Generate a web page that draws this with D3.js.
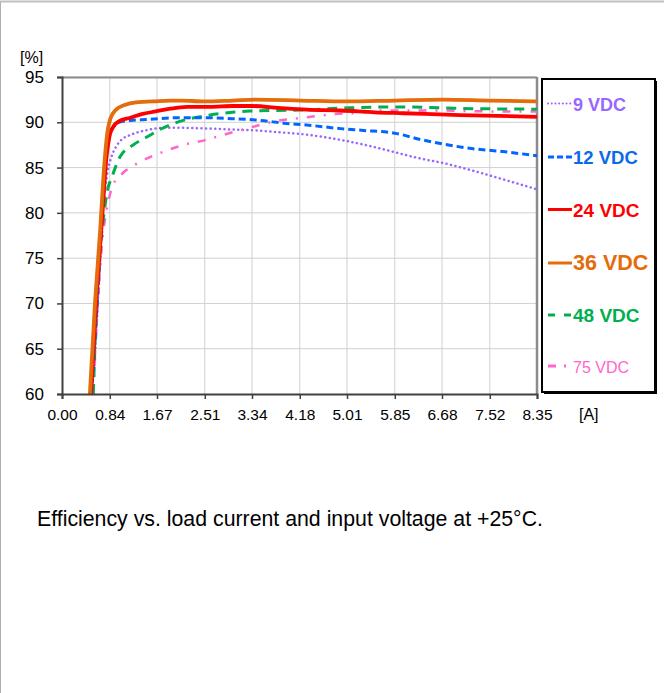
<!DOCTYPE html>
<html>
<head>
<meta charset="utf-8">
<script src="https://cdn.jsdelivr.net/npm/d3@7"></script>
<style>
  html, body { margin: 0; padding: 0; background: #fff; }
  svg { display: block; font-family: Arial, "Liberation Sans", sans-serif; }
</style>
</head>
<body>
<svg id="chart" width="664" height="693"></svg>
<script>
// ---- data ----
const xTicks = [0.00, 0.84, 1.67, 2.51, 3.34, 4.18, 5.01, 5.85, 6.68, 7.52, 8.35];
const xTickLabels = ["0.00", "0.84", "1.67", "2.51", "3.34", "4.18", "5.01", "5.85", "6.68", "7.52", "8.35"];
const yTicks = [60, 65, 70, 75, 80, 85, 90, 95];

const seriesNames = ["9 VDC", "12 VDC", "24 VDC", "36 VDC", "48 VDC", "75 VDC"];

const vdc9 = [[0.53,60],[0.63,70],[0.72,80],[0.80,84.5],[0.86,86],[0.95,87.3],[1.05,88.1],[1.2,88.6],[1.5,89.15],[1.85,89.4],[2.4,89.35],[3.0,89.2],[3.4,89.1],[3.8,88.9],[4.2,88.7],[4.9,88.05],[5.4,87.4],[5.85,86.7],[6.3,86.0],[6.7,85.5],[7.2,84.7],[7.7,83.8],[8.35,82.6]];
const vdc12 = [[0.52,60],[0.62,70],[0.71,80],[0.78,86],[0.84,88.6],[0.92,89.6],[1.0,90.0],[1.2,90.2],[1.5,90.3],[2.0,90.5],[2.5,90.5],[3.0,90.4],[3.5,90.2],[3.9,89.9],[4.3,89.7],[4.9,89.3],[5.3,89.1],[5.85,88.8],[6.3,88.1],[6.7,87.6],[7.2,87.1],[7.7,86.8],[8.35,86.3]];
const vdc24 = [[0.51,60],[0.60,70],[0.70,79],[0.78,86],[0.84,88.6],[0.90,89.5],[1.0,90.1],[1.2,90.5],[1.4,90.9],[1.65,91.2],[1.9,91.5],[2.2,91.7],[2.6,91.7],[3.0,91.8],[3.34,91.8],[3.8,91.6],[4.3,91.4],[4.9,91.3],[5.5,91.1],[6.0,91.0],[7.0,90.8],[8.35,90.6]];
const vdc36 = [[0.49,60],[0.58,70],[0.67,78],[0.74,85],[0.79,88.5],[0.85,90.4],[0.95,91.4],[1.1,91.9],[1.3,92.2],[1.6,92.3],[1.9,92.4],[2.1,92.4],[2.5,92.3],[3.0,92.4],[3.4,92.5],[4.2,92.4],[5.0,92.3],[5.85,92.4],[6.7,92.5],[7.5,92.4],[8.35,92.3]];
const vdc48 = [[0.55,60],[0.61,70],[0.74,80],[0.80,82.5],[0.88,84],[1.02,86.2],[1.25,87.5],[1.5,88.4],[1.72,89.2],[2.07,90.1],[2.37,90.55],[2.6,90.8],[3.0,91.1],[3.3,91.25],[4.18,91.35],[5.06,91.6],[5.85,91.7],[6.64,91.6],[7.3,91.5],[8.35,91.45]];
const vdc75 = [[0.55,60],[0.63,70],[0.71,77],[0.79,80.5],[0.90,83.1],[1.07,84.4],[1.28,85.3],[1.72,86.6],[2.2,87.6],[2.5,88.0],[2.83,88.6],[3.3,89.4],[3.78,90.15],[4.3,90.55],[4.77,90.9],[5.24,91.05],[5.64,91.3],[6.6,91.3],[7.6,91.2],[8.35,91.2]];

const seriesData = [vdc9, vdc12, vdc24, vdc36, vdc48, vdc75];

// ---- styles ----
const styles = [
  {color:"#9966ff", width:2.5, dash:"0.1 4.5", cap:"round", font:"bold",   size:18,   lcolor:"#9966ff"},
  {color:"#0066ff", width:3,   dash:"7 4",     cap:"butt",  font:"bold",   size:18.5, lcolor:"#0a6ae8"},
  {color:"#ff0000", width:3.8, dash:null,      cap:"butt",  font:"bold",   size:19,   lcolor:"#ff0000"},
  {color:"#e46c0a", width:3.8, dash:null,      cap:"butt",  font:"bold",   size:21.5, lcolor:"#e46c0a"},
  {color:"#00b050", width:3,   dash:"10 7",    cap:"butt",  font:"bold",   size:19,   lcolor:"#00b050"},
  {color:"#ff66cc", width:2.5, dash:"8 9 2 9", cap:"butt",  font:"normal", size:16,   lcolor:"#ff66cc"}
];

const svg = d3.select("#chart");

// outer frame
svg.append("line").attr("x1",0).attr("x2",664).attr("y1",1.5).attr("y2",1.5)
  .attr("stroke","#c0c0c0").attr("stroke-width",2);
svg.append("line").attr("x1",0.5).attr("x2",0.5).attr("y1",2).attr("y2",693)
  .attr("stroke","#b0b0b0").attr("stroke-width",1);

const L = 62, R = 537, T = 77, B = 394;
const x = d3.scaleLinear().domain([0, 8.35]).range([L, R]);
const y = d3.scaleLinear().domain([60, 95]).range([B, T]);

// gridlines
svg.append("g").selectAll("line").data(xTicks.slice(1)).join("line")
  .attr("x1", d => x(d)).attr("x2", d => x(d)).attr("y1", T).attr("y2", B)
  .attr("stroke", "#d0d0d0").attr("stroke-width", 1);
svg.append("g").selectAll("line").data(yTicks.slice(1)).join("line")
  .attr("x1", L).attr("x2", R).attr("y1", d => y(d)).attr("y2", d => y(d))
  .attr("stroke", "#d0d0d0").attr("stroke-width", 1);

// top & right border
svg.append("line").attr("x1",L).attr("x2",R).attr("y1",T+0.5).attr("y2",T+0.5)
  .attr("stroke","#8c8c8c").attr("stroke-width",2);
svg.append("line").attr("x1",R).attr("x2",R).attr("y1",T).attr("y2",B)
  .attr("stroke","#8c8c8c").attr("stroke-width",2.5);

// lines
const line = d3.line().x(d => x(d[0])).y(d => y(d[1])).curve(d3.curveMonotoneX);
const drawOrder = [0, 5, 4, 1, 2, 3];
drawOrder.forEach(i => {
  const s = styles[i];
  const p = svg.append("path").datum(seriesData[i])
    .attr("d", line).attr("fill", "none")
    .attr("stroke", s.color).attr("stroke-width", s.width)
    .attr("stroke-linecap", s.cap).attr("stroke-linejoin", "round");
  if (s.dash) p.attr("stroke-dasharray", s.dash);
});

// axes
const yAxis = d3.axisLeft(y).tickValues(yTicks).tickSize(5).tickPadding(13).tickFormat(d3.format("d"));
const gy = svg.append("g").attr("transform", `translate(${L},0)`).call(yAxis);
gy.select(".domain").attr("stroke", "#404040").attr("stroke-width", 2);
gy.selectAll(".tick line").attr("stroke", "#404040").attr("stroke-width", 1.5);
gy.selectAll(".tick text").attr("font-size", 17).attr("fill", "#000")
  .attr("font-family", "Arial, 'Liberation Sans', sans-serif");

const xAxis = d3.axisBottom(x).tickValues(xTicks).tickSize(5).tickPadding(10)
  .tickFormat((d, i) => xTickLabels[i]);
const gx = svg.append("g").attr("transform", `translate(0,${B})`).call(xAxis);
gx.select(".domain").attr("stroke", "#404040").attr("stroke-width", 2);
gx.selectAll(".tick line").attr("stroke", "#404040").attr("stroke-width", 1.5);
gx.selectAll(".tick text").attr("font-size", 15.5).attr("fill", "#000")
  .attr("font-family", "Arial, 'Liberation Sans', sans-serif");

// unit labels
svg.append("text").attr("x", 20).attr("y", 63).attr("font-size", 16).text("[%]");
svg.append("text").attr("x", 579).attr("y", 420).attr("font-size", 16).text("[A]");

// legend box
const lgX = 542, lgY = 79, lgW = 113, lgH = 313;
svg.append("rect").attr("x", lgX + 2).attr("y", lgY + 2).attr("width", lgW).attr("height", lgH)
  .attr("fill", "#000");
svg.append("rect").attr("x", lgX).attr("y", lgY).attr("width", lgW).attr("height", lgH)
  .attr("fill", "#fff").attr("stroke", "#000").attr("stroke-width", 2);

const lgLineY = [103.5, 157, 209.5, 263, 315, 366];
const lgTextY = [110.5, 163.5, 216.5, 270, 321.5, 372.5];
const lgDash = ["0.1 3.6", "6 3", null, null, "7 9", "8 8 2 30"];
seriesNames.forEach((name, i) => {
  const s = styles[i];
  const ln = svg.append("line").attr("x1", 548).attr("x2", 572)
    .attr("y1", lgLineY[i]).attr("y2", lgLineY[i])
    .attr("stroke", s.color).attr("stroke-width", i === 0 ? 2 : 3)
    .attr("stroke-linecap", i === 0 ? "round" : "butt");
  if (lgDash[i]) ln.attr("stroke-dasharray", lgDash[i]);
  svg.append("text").attr("x", 573).attr("y", lgTextY[i])
    .attr("font-size", s.size).attr("font-weight", s.font)
    .attr("fill", s.lcolor).text(name);
});

// caption
svg.append("text").attr("x", 37).attr("y", 526).attr("font-size", 21.3)
  .attr("fill", "#000").text("Efficiency vs. load current and input voltage at +25\u00B0C.");
</script>
</body>
</html>
